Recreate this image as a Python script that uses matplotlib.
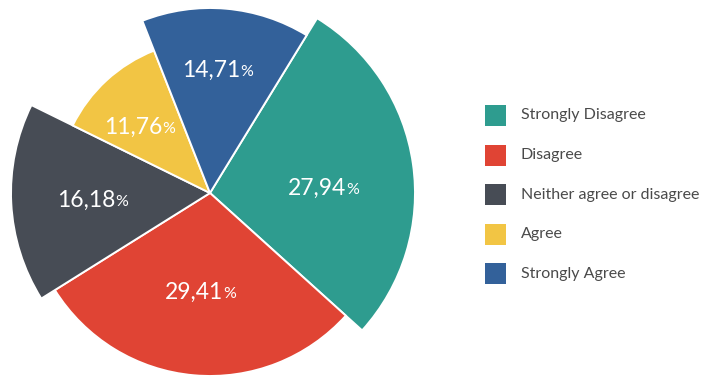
import matplotlib.pyplot as plt
from matplotlib.patches import Wedge, Rectangle

categories = ['Strongly Disagree', 'Disagree', 'Neither agree or disagree',
              'Agree', 'Strongly Agree']
shares = [27.94, 29.41, 16.18, 11.76, 14.71]
labels = ['27,94', '29,41', '16,18', '11,76', '14,71']

colors = ['#2e9c8f', '#e04434', '#474c55', '#f2c544', '#33619a']
radii = [205, 183, 199, 153, 185]
# label offsets from the pie centre
label_off = [(116, 5), (-7, -99), (-115, -7), (-68, 66), (10, 123)]

plt.rcParams['font.family'] = ['Lato', 'DejaVu Sans']

fig = plt.figure(figsize=(7.13, 3.81), dpi=100)
ax = fig.add_axes([0, 0, 1, 1])
ax.set_xlim(0, 713)
ax.set_ylim(0, 381)
ax.set_aspect('equal')
ax.axis('off')

cx, cy = 210, 188
start = 58.5
total = sum(shares)

for i, val in enumerate(shares):
    sweep = 360 * val / total
    end = start - sweep
    w = Wedge((cx, cy), radii[i], end, start, facecolor=colors[i],
              edgecolor='white', linewidth=1.4)
    ax.add_patch(w)

    lx = cx + label_off[i][0]
    ly = cy + label_off[i][1]
    num = ax.text(lx - 9, ly, labels[i], color='white', fontsize=16.5,
                  ha='center', va='center')
    ax.annotate('%', xy=(1, 0.08), xycoords=num, color='white',
                fontsize=11.5, ha='left', va='bottom')
    start = end

# legend swatches
for i, name in enumerate(categories):
    y = 381 - (115.5 + i * 39.6)
    ax.add_patch(Rectangle((485, y - 10.5), 21, 21, facecolor=colors[i],
                           edgecolor='none'))
    ax.text(521, y, name, color='#4a4a4a', fontsize=11.5, ha='left',
            va='center')

fig.savefig('out.png', dpi=100, facecolor='white')
